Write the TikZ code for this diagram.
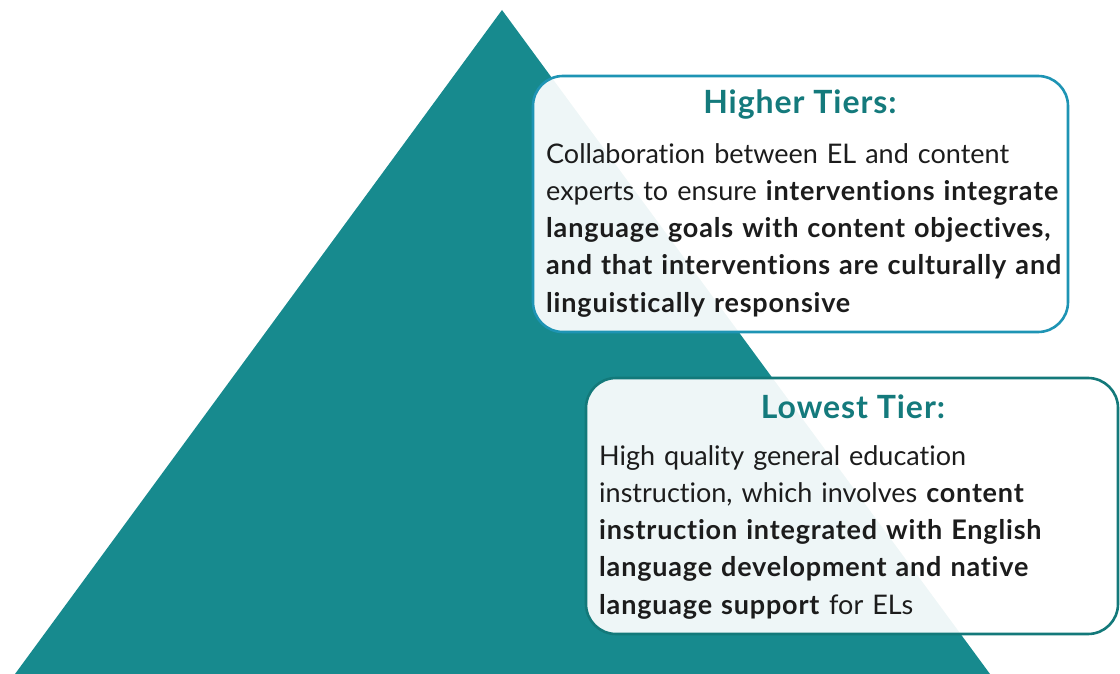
\documentclass[tikz,border=0pt]{standalone}
\usepackage{fontspec}
\setmainfont{Lato}[Ligatures=NoCommon, BoldFeatures={LetterSpace=3}]
\definecolor{pyrteal}{HTML}{178A8E}
\definecolor{titleteal}{HTML}{147A7C}
\definecolor{hiborder}{HTML}{1E94B4}
\definecolor{loborder}{HTML}{13797A}
\definecolor{bodyink}{HTML}{1C1C1C}
\tikzset{
  tierbox/.style={rectangle, rounded corners=30pt, line width=2.6pt, fill=white, fill opacity=0.93, minimum width=535pt, minimum height=256pt, inner sep=0pt},
  tiertitle/.style={font=\fontsize{32}{38}\selectfont\bfseries, text=titleteal, inner sep=0pt},
  tiertext/.style={font=\fontsize{27}{37.3}\selectfont, text=bodyink, align=left, anchor=north west, inner sep=0pt, text width=540pt}
}
\begin{document}
\begin{tikzpicture}[x=1pt,y=-1pt]
\useasboundingbox (0,0) rectangle (1120,674);
\coordinate (apex) at (502,10);
\coordinate (baseL) at (15,674);
\coordinate (baseR) at (990,674);
\fill[pyrteal] (apex) -- (baseL) -- (baseR) -- cycle;

% higher tiers
\node[tierbox, draw=hiborder] (box1) at (800.5,204){};
\node[tiertitle] (title1) at (800,105){Higher Tiers:};
\node[tiertext] (text1) at (546,143){Collaboration between EL and content\\experts to ensure \textbf{interventions integrate}\\\textbf{language goals with content objectives,}\\\textbf{and that interventions are culturally and}\\\textbf{linguistically responsive}};

% lowest tier
\node[tierbox, draw=loborder, minimum width=532pt] (box2) at (852,506){};
\node[tiertitle] (title2) at (853,407){Lowest Tier:};
\node[tiertext] (text2) at (599,445){High quality general education\\instruction, which involves \textbf{content}\\\textbf{instruction integrated with English}\\\textbf{language development and native}\\\textbf{language support} for ELs};

\end{tikzpicture}
\end{document}
